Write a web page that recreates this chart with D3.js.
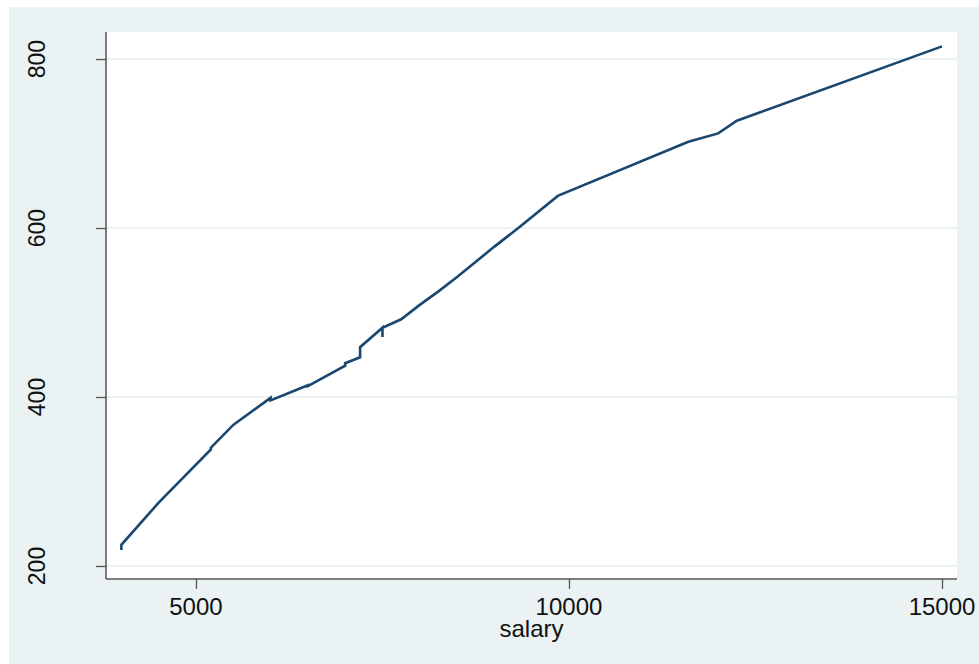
<!DOCTYPE html>
<html>
<head>
<meta charset="utf-8">
<script src="https://cdn.jsdelivr.net/npm/d3@7"></script>
<style>
  body { margin: 0; background: white; }
  text { font-family: "Liberation Sans", Arial, sans-serif; fill: #111; }
</style>
</head>
<body>
<script>
// salary vs fitted value (tied x values make the little vertical ticks)
const salary = [4000, 4000, 4500, 5200, 5200, 5500, 6000, 6000, 6500, 6500, 7000, 7000, 7200, 7200,
  7500, 7500, 7500, 7750, 8000, 8250, 8500, 9000, 9350, 9850, 11600, 12000, 12250, 15000];
const fitted = [219, 225, 275, 338, 340, 367, 399, 396, 414, 413, 437, 440, 447, 459,
  482, 471, 482, 492, 509, 525, 542, 578, 602, 638, 702, 712, 727, 815];
const xTicks = [5000, 10000, 15000];
const yTicks = [200, 400, 600, 800];

const svg = d3.select("body").append("svg")
  .attr("width", 979)
  .attr("height", 664);

// outer graph region
svg.append("rect")
  .attr("x", 9).attr("y", 7)
  .attr("width", 970).attr("height", 657)
  .attr("fill", "#eaf2f3");

const pLeft = 106, pRight = 957, pTop = 32, pBottom = 579;

svg.append("rect")
  .attr("x", pLeft).attr("y", pTop)
  .attr("width", pRight - pLeft).attr("height", pBottom - pTop)
  .attr("fill", "white");

const x = d3.scaleLinear().domain([3794, 15201]).range([pLeft, pRight]);
const y = d3.scaleLinear().domain([184.6, 832]).range([pBottom, pTop]);

// grid
svg.append("g").selectAll("line")
  .data(yTicks)
  .join("line")
  .attr("x1", pLeft).attr("x2", pRight)
  .attr("y1", d => y(d)).attr("y2", d => y(d))
  .attr("stroke", "#eaf2f3")
  .attr("stroke-width", 2);

// y axis
const yAxis = svg.append("g")
  .attr("transform", `translate(${pLeft},0)`)
  .call(d3.axisLeft(y).tickValues(yTicks).tickSize(10).tickFormat(""));
yAxis.select(".domain").remove();
yAxis.selectAll("line").attr("stroke", "#555").attr("stroke-width", 1.3);

svg.append("g").selectAll("text")
  .data(yTicks)
  .join("text")
  .attr("transform", d => `translate(45,${y(d)}) rotate(-90)`)
  .attr("text-anchor", "middle")
  .attr("font-size", 23)
  .text(d => d);

// x axis
const xAxis = svg.append("g")
  .attr("transform", `translate(0,${pBottom})`)
  .call(d3.axisBottom(x).tickValues(xTicks).tickSize(10).tickFormat(""));
xAxis.select(".domain").remove();
xAxis.selectAll("line").attr("stroke", "#555").attr("stroke-width", 1.3);

svg.append("g").selectAll("text")
  .data(xTicks)
  .join("text")
  .attr("x", d => x(d))
  .attr("y", 615)
  .attr("text-anchor", "middle")
  .attr("font-size", 24)
  .text(d => d);

svg.append("text")
  .attr("x", (pLeft + pRight) / 2)
  .attr("y", 637)
  .attr("text-anchor", "middle")
  .attr("font-size", 24)
  .text("salary");

// axis lines
svg.append("line")
  .attr("x1", pLeft).attr("x2", pLeft)
  .attr("y1", pTop).attr("y2", pBottom)
  .attr("stroke", "#555").attr("stroke-width", 1.5);
svg.append("line")
  .attr("x1", pLeft).attr("x2", pRight)
  .attr("y1", pBottom).attr("y2", pBottom)
  .attr("stroke", "#555").attr("stroke-width", 1.5);

// fitted line
const pts = salary.map((s, i) => [s, fitted[i]]);
svg.append("path")
  .datum(pts)
  .attr("fill", "none")
  .attr("stroke", "#1a476f")
  .attr("stroke-width", 2.6)
  .attr("d", d3.line().x(d => x(d[0])).y(d => y(d[1])));
</script>
</body>
</html>
